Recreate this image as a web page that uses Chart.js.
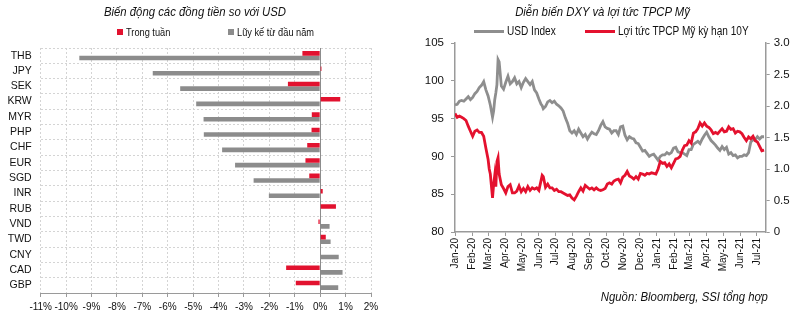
<!DOCTYPE html>
<html>
<head>
<meta charset="utf-8">
<script src="https://cdn.jsdelivr.net/npm/chart.js@4.4.1/dist/chart.umd.min.js"></script>
<style>
  body { margin: 0; background: #fff; width: 800px; height: 322px; position: relative; overflow: hidden;
         font-family: 'Liberation Sans Narrow', 'Arial Narrow', 'Liberation Sans', Arial, sans-serif; color: #111; }
  .box { position: absolute; top: 0; height: 322px; }
  .txt { position: absolute; white-space: nowrap; }
  .title { font-style: italic; font-size: 13.5px; text-align: center; transform: scaleX(0.84); }
  .leg { font-size: 11px; line-height: 12px; transform: scaleX(0.84); transform-origin: left center; }
  .sw { position: absolute; }
</style>
</head>
<body>
<div class="box" style="left:0;width:395px"><canvas id="fx-chart"></canvas></div>
<div class="box" style="left:400px;width:400px"><canvas id="dxy-chart"></canvas></div>

<div class="txt title" style="left:0;width:390px;top:4px">Biến động các đồng tiền so với USD</div>
<div class="sw" style="left:117px;top:29px;width:6px;height:6px;background:#e2122f"></div>
<div class="txt leg" style="left:126px;top:26px">Trong tuần</div>
<div class="sw" style="left:228px;top:29px;width:6px;height:6px;background:#8c8c8c"></div>
<div class="txt leg" style="left:237px;top:26px">Lũy kế từ đầu năm</div>

<div class="txt title" style="left:405px;width:395px;top:4px">Diễn biến DXY và lợi tức TPCP Mỹ</div>
<div class="sw" style="left:474px;top:30px;width:30px;height:3px;background:#8e8e8e"></div>
<div class="txt leg" style="left:507px;top:25px;font-size:12px">USD Index</div>
<div class="sw" style="left:585px;top:30px;width:30px;height:3px;background:#e4112e"></div>
<div class="txt leg" style="left:618px;top:25px;font-size:12px">Lợi tức TPCP Mỹ kỳ hạn 10Y</div>

<div class="txt title" style="right:32px;top:289px;transform-origin:right center">Nguồn: Bloomberg, SSI tổng hợp</div>

<script>
const FONT = "'Liberation Sans Narrow', 'Arial Narrow', 'Liberation Sans', Arial, sans-serif";

// ---- left chart: currency moves vs USD (%) ----
const currencies = ['THB', 'JPY', 'SEK', 'KRW', 'MYR', 'PHP', 'CHF', 'EUR', 'SGD', 'INR', 'RUB', 'VND', 'TWD', 'CNY', 'CAD', 'GBP'];
const weekChange = [-0.70, 0.05, -1.27, 0.79, -0.33, -0.34, -0.51, -0.58, -0.43, 0.10, 0.62, -0.07, 0.22, 0.0, -1.34, -0.96];
const ytdChange = [-9.48, -6.59, -5.51, -4.88, -4.59, -4.58, -3.86, -3.35, -2.62, -2.02, -0.02, 0.37, 0.41, 0.73, 0.88, 0.71];

// ---- right chart: DXY and US 10Y yield, days counted from 1 Jan 2020 ----
const days = [0, 4, 8, 12, 16, 20, 24, 28, 32, 36, 40, 44, 48, 52, 56, 60, 62, 64, 68, 70, 72, 74, 76, 78, 80, 84, 88, 92, 96, 100,
  104, 108, 112, 116, 120, 124, 128, 132, 136, 140, 144, 148, 152, 156, 158, 160, 164, 168, 172, 176, 180, 184, 188, 192, 196, 200,
  204, 208, 212, 216, 220, 224, 228, 232, 236, 240, 244, 248, 252, 256, 260, 264, 268, 272, 276, 280, 284, 288, 292, 296, 300,
  304, 308, 312, 316, 320, 324, 328, 332, 336, 340, 344, 348, 352, 356, 360, 364, 368, 372, 376, 380, 384, 388, 392, 396, 400,
  404, 408, 412, 416, 420, 424, 428, 432, 436, 440, 444, 448, 452, 456, 460, 464, 468, 472, 476, 480, 484, 488, 492, 496, 500,
  504, 508, 512, 516, 520, 524, 528, 532, 536, 540, 544, 548, 552, 556, 560];
const dxy = [96.8, 96.9, 97.3, 97.4, 97.3, 97.6, 97.9, 97.5, 97.8, 98.3, 98.6, 99.1, 99.4, 99.9, 98.8, 98.0, 97.4, 96.8, 95.2, 96.0, 97.5, 98.4, 99.5, 102.8, 102.5, 99.3, 98.9, 99.8, 100.6, 99.6,
  99.9, 100.4, 99.6, 99.9, 99.1, 99.8, 100.3, 99.9, 99.5, 99.9, 98.8, 98.4, 97.6, 96.9, 96.7, 96.3, 96.6, 97.2, 97.4, 97.1, 97.3, 96.9, 96.7, 96.4, 96.0, 95.1,
  94.4, 93.4, 93.1, 93.4, 92.9, 93.6, 93.1, 92.6, 92.9, 92.3, 92.8, 93.2, 93.0, 92.9, 93.4, 94.1, 94.6, 93.9, 93.7, 93.6, 93.1, 93.4, 93.4, 92.9, 93.9,
  94.0, 92.8, 92.2, 92.6, 92.4, 92.3, 91.8, 91.7, 91.2, 90.7, 90.8, 90.4, 90.0, 90.2, 90.3, 89.9, 89.5, 90.0, 90.2, 90.2, 90.5, 90.3, 90.5, 91.1, 91.2,
  90.6, 90.5, 90.5, 90.3, 90.1, 90.9, 90.9, 91.6, 91.8, 92.0, 91.7, 92.3, 92.8, 93.2, 92.6, 92.1, 91.8, 91.5, 91.1, 90.8, 91.3, 90.9, 91.2, 90.3, 90.5,
  90.1, 90.2, 89.8, 90.0, 90.0, 90.2, 90.1, 90.5, 91.9, 92.2, 92.2, 92.6, 92.3, 92.6, 92.6];
const ust10y = [1.88, 1.82, 1.84, 1.82, 1.80, 1.77, 1.68, 1.60, 1.52, 1.60, 1.62, 1.58, 1.58, 1.52, 1.33, 1.15, 1.00, 0.92, 0.54, 0.75, 0.90, 0.72, 1.12, 1.18, 0.92, 0.75, 0.69, 0.62, 0.72, 0.75,
  0.62, 0.62, 0.65, 0.73, 0.64, 0.69, 0.64, 0.72, 0.66, 0.70, 0.68, 0.70, 0.66, 0.82, 0.90, 0.88, 0.71, 0.76, 0.70, 0.70, 0.66, 0.68, 0.64, 0.64, 0.62, 0.60,
  0.58, 0.59, 0.54, 0.51, 0.57, 0.64, 0.70, 0.65, 0.74, 0.71, 0.68, 0.70, 0.67, 0.70, 0.67, 0.66, 0.67, 0.69, 0.76, 0.78, 0.76, 0.81, 0.83, 0.84, 0.78,
  0.87, 0.90, 0.96, 0.89, 0.87, 0.84, 0.88, 0.84, 0.93, 0.92, 0.90, 0.93, 0.92, 0.94, 0.93, 0.92, 1.00, 1.12, 1.09, 1.10, 1.04, 1.08, 1.02, 1.09, 1.16,
  1.17, 1.20, 1.30, 1.37, 1.38, 1.45, 1.41, 1.57, 1.59, 1.64, 1.73, 1.68, 1.73, 1.68, 1.66, 1.62, 1.56, 1.58, 1.56, 1.60, 1.64, 1.59, 1.60, 1.67, 1.63,
  1.64, 1.57, 1.60, 1.59, 1.56, 1.50, 1.45, 1.51, 1.48, 1.52, 1.45, 1.43, 1.36, 1.29, 1.30];
const monthDays = [0, 31, 60, 91, 121, 152, 182, 213, 244, 274, 305, 335, 366, 397, 425, 456, 486, 517, 547];
const monthLabels = ['Jan-20', 'Feb-20', 'Mar-20', 'Apr-20', 'May-20', 'Jun-20', 'Jul-20', 'Aug-20', 'Sep-20', 'Oct-20', 'Nov-20', 'Dec-20',
  'Jan-21', 'Feb-21', 'Mar-21', 'Apr-21', 'May-21', 'Jun-21', 'Jul-21'];

function createFxChart() {
    const ctx = document.getElementById('fx-chart').getContext('2d');
    new Chart(ctx, {
        type: 'bar',
        data: {
            labels: currencies,
            datasets: [{
                label: 'Trong tuần',
                data: weekChange,
                backgroundColor: '#e2122f',
                categoryPercentage: 0.6,
                barPercentage: 1
            }, {
                label: 'Lũy kế từ đầu năm',
                data: ytdChange,
                backgroundColor: '#8c8c8c',
                categoryPercentage: 0.6,
                barPercentage: 1
            }]
        },
        options: {
            indexAxis: 'y',
            responsive: true,
            maintainAspectRatio: false,
            animation: false,
            layout: { padding: { top: 48, right: 24, left: 0, bottom: 0 } },
            plugins: { legend: { display: false }, tooltip: { enabled: false } },
            scales: {
                x: {
                    min: -11,
                    max: 2,
                    afterFit: scale => { scale.height = 29; },
                    grid: {
                        color: c => (c.tick && c.tick.value === 0) ? '#8c8c8c' : '#d4d4d4',
                        tickColor: '#9a9a9a',
                        tickLength: 4
                    },
                    border: {
                        color: '#9a9a9a',
                        dash: c => (c.tick && c.tick.value === 0) ? [] : [2, 2]
                    },
                    ticks: {
                        stepSize: 1,
                        padding: 4,
                        autoSkip: false,
                        maxRotation: 0,
                        color: '#111',
                        font: { family: FONT, size: 10 },
                        callback: v => v + '%'
                    }
                },
                y: {
                    afterFit: scale => { scale.width = 40.7; },
                    grid: { color: '#d4d4d4', drawTicks: false },
                    border: { display: false, dash: [2, 2] },
                    ticks: {
                        padding: 9,
                        autoSkip: false,
                        color: '#111',
                        font: { family: FONT, size: 10.5 }
                    }
                }
            }
        }
    });
}

function createDxyChart() {
    const ctx = document.getElementById('dxy-chart').getContext('2d');
    new Chart(ctx, {
        type: 'line',
        data: {
            datasets: [{
                label: 'USD Index',
                data: days.map((d, i) => ({ x: d, y: dxy[i] })),
                borderColor: '#8e8e8e',
                backgroundColor: '#8e8e8e',
                borderWidth: 2.8,
                pointRadius: 0,
                yAxisID: 'y',
                order: 1
            }, {
                label: 'Lợi tức TPCP Mỹ kỳ hạn 10Y',
                data: days.map((d, i) => ({ x: d, y: ust10y[i] })),
                borderColor: '#e4112e',
                backgroundColor: '#e4112e',
                borderWidth: 2.8,
                pointRadius: 0,
                yAxisID: 'y1',
                order: 0
            }]
        },
        options: {
            responsive: true,
            maintainAspectRatio: false,
            animation: false,
            layout: { padding: { top: 43, right: 0, left: 0, bottom: 0 } },
            plugins: { legend: { display: false }, tooltip: { enabled: false } },
            scales: {
                x: {
                    type: 'linear',
                    min: 0,
                    max: 563,
                    afterFit: scale => { scale.height = 90; },
                    afterBuildTicks: scale => { scale.ticks = monthDays.map(v => ({ value: v })); },
                    grid: { drawOnChartArea: false, color: '#9a9a9a', tickLength: 4 },
                    border: { color: '#9a9a9a', width: 1.5 },
                    ticks: {
                        autoSkip: false,
                        minRotation: 90,
                        maxRotation: 90,
                        padding: 2,
                        color: '#111',
                        font: { family: FONT, size: 10 },
                        callback: (v, i) => monthLabels[i]
                    }
                },
                y: {
                    position: 'left',
                    min: 80,
                    max: 105,
                    afterFit: scale => { scale.width = 55; },
                    grid: { drawOnChartArea: false, color: '#9a9a9a', tickLength: 4 },
                    border: { color: '#9a9a9a', width: 1.5 },
                    ticks: {
                        stepSize: 5,
                        padding: 7,
                        color: '#111',
                        font: { family: FONT, size: 11.5 }
                    }
                },
                y1: {
                    position: 'right',
                    min: 0,
                    max: 3,
                    afterFit: scale => { scale.width = 34.3; },
                    grid: { drawOnChartArea: false, color: '#9a9a9a', tickLength: 4 },
                    border: { color: '#9a9a9a', width: 1.5 },
                    ticks: {
                        stepSize: 0.5,
                        padding: 4,
                        color: '#111',
                        font: { family: FONT, size: 11.5 }
                    }
                }
            }
        }
    });
}

createFxChart();
createDxyChart();
</script>
</body>
</html>
